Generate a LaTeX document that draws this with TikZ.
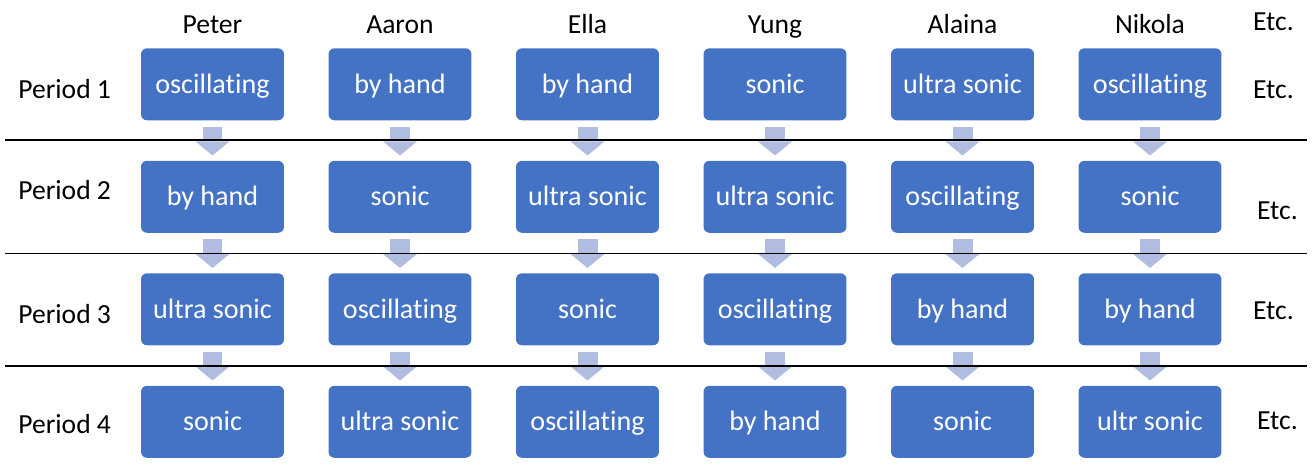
\documentclass[tikz,border=0pt]{standalone}
\usepackage{fontspec}
\setmainfont{Carlito}[Ligatures=NoCommon]
\usetikzlibrary{arrows.meta}
\definecolor{boxblue}{HTML}{4472C4}
\definecolor{arrowblue}{HTML}{B0BCE0}

\begin{document}
\begin{tikzpicture}[x=0.02cm, y=-0.02cm]
    \def\colw{187.5}
    \def\rowh{112.5}
    \def\firstx{212.5}
    \def\firsty{84.3}
    \tikzset{
        method/.style={fill=boxblue, rounded corners=0.12cm, minimum width=2.86cm, minimum height=1.44cm,
            inner sep=0pt, text=white, font=\fontsize{16}{19}\selectfont, text height=0.47cm, text depth=0.11cm},
        tag/.style={inner sep=0pt, font=\fontsize{15.7}{19}\selectfont},
        flow/.style={arrowblue, line width=0.4cm, -{Triangle[length=0.28cm, width=0.68cm, line width=0pt]},
            shorten <=0.12cm, shorten >=0.1cm},
        sepline/.style={black, line width=0.8pt}
    }
    \useasboundingbox (0,0) rectangle (1313,469);

    \foreach \name [count=\c] in {Peter, Aaron, Ella, Yung, Alaina, Nikola} {
        \node[tag, anchor=base] (name-\c) at ({\firstx + (\c-1)*\colw}, 33.3) {\name};
    }
    \foreach \row [count=\r] in {
        {oscillating, by hand, by hand, sonic, ultra sonic, oscillating},
        {by hand, sonic, ultra sonic, ultra sonic, oscillating, sonic},
        {ultra sonic, oscillating, sonic, oscillating, by hand, by hand},
        {sonic, ultra sonic, oscillating, by hand, sonic, ultr sonic}} {
        \foreach \m [count=\c] in \row {
            \node[method] (m-\r-\c) at ({\firstx + (\c-1)*\colw}, {\firsty + (\r-1)*\rowh}) {\m};
        }
    }
    \foreach \r in {1,2,3} {
        \pgfmathtruncatemacro\nr{\r + 1}
        \foreach \c in {1,...,6} {
            \draw[flow] (m-\r-\c.south) -- (m-\nr-\c.north);
        }
    }
    \foreach \y in {140, 253.3, 366} {
        \draw[sepline] (5,\y) -- (1307,\y);
    }
    \foreach \p/\y in {1/98.3, 2/200, 3/323.3, 4/433.3} {
        \node[tag, anchor=base west] (period-\p) at (18,\y) {Period \p};
    }
    \foreach \x/\y [count=\i] in {1252.7/31, 1252.7/98.3, 1256.7/220, 1252.7/319.3, 1256.7/429.3} {
        \node[tag, anchor=base west] (etc-\i) at (\x,\y) {Etc.};
    }
\end{tikzpicture}
\end{document}
